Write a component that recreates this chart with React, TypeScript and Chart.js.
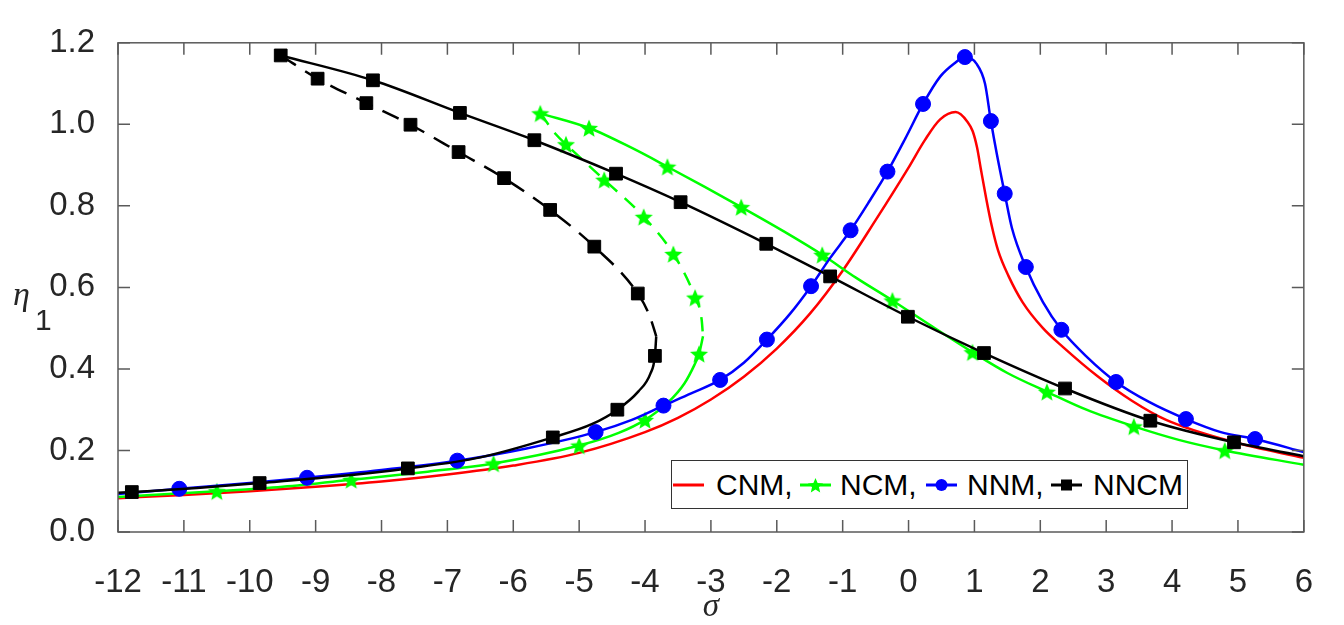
import React, { useEffect, useRef } from "react";
import { Chart, registerables } from "chart.js";

Chart.register(...registerables);

// ---- Axis ticks ----
const xTicks = [-12, -11, -10, -9, -8, -7, -6, -5, -4, -3, -2, -1, 0, 1, 2, 3, 4, 5, 6];
const yTicks = [0, 0.2, 0.4, 0.6, 0.8, 1.0, 1.2];

// ---- CNM (red, no markers) ----
const cnmCurve: [number, number][] = [
  [-12, 0.083], [-11, 0.091], [-10, 0.1], [-9, 0.111], [-8, 0.124], [-7, 0.141], [-6, 0.163],
  [-5, 0.194], [-4, 0.245], [-3.5, 0.28], [-3, 0.325], [-2.5, 0.381], [-2, 0.45], [-1.5, 0.535],
  [-1, 0.641], [-0.5, 0.765], [0, 0.894], [0.25, 0.962], [0.48, 1.012],
  [0.715, 1.03], [0.896, 1.006], [0.974, 0.983], [1.04, 0.943], [1.1, 0.888], [1.18, 0.817],
  [1.26, 0.753], [1.36, 0.69], [1.52, 0.627], [1.73, 0.564], [2.04, 0.5], [2.35, 0.453],
  [2.87, 0.382], [3.39, 0.322], [3.91, 0.275], [4.95, 0.22], [6, 0.182],
];

// ---- NCM (green) ----
const ncmUpper: [number, number][] = [
  [-5.59, 1.027], [-4.85, 0.991], [-4.2, 0.942], [-3.66, 0.896], [-3.1, 0.847], [-2.54, 0.797],
  [-1.9, 0.738], [-1.31, 0.68], [-0.8, 0.624], [-0.245, 0.568], [0.35, 0.505], [0.97, 0.441],
  [1.5, 0.39], [2.1, 0.344], [2.7, 0.3], [3.42, 0.259], [4.1, 0.226], [4.8, 0.2], [6, 0.165],
];
const ncmUpperMarks: [number, number][] = [
  [-5.59, 1.027], [-4.85, 0.991], [-3.66, 0.896], [-2.54, 0.797], [-1.31, 0.68],
  [-0.245, 0.568], [0.97, 0.441], [2.1, 0.344], [3.42, 0.259], [4.8, 0.2],
];
const ncmMiddle: [number, number][] = [
  [-5.59, 1.027], [-5.35, 0.975], [-5.2, 0.951], [-4.62, 0.864], [-4.02, 0.773], [-3.57, 0.682],
  [-3.24, 0.575], [-3.14, 0.52], [-3.12, 0.48],
];
const ncmMiddleMarks: [number, number][] = [
  [-5.2, 0.951], [-4.62, 0.864], [-4.02, 0.773], [-3.57, 0.682], [-3.24, 0.575],
];
const ncmLower: [number, number][] = [
  [-12, 0.086], [-10.5, 0.1], [-9.5, 0.111], [-8.46, 0.128], [-7.3, 0.148], [-6.3, 0.168],
  [-5.0, 0.212], [-4.4, 0.243], [-4.0, 0.275], [-3.65, 0.318], [-3.4, 0.365], [-3.25, 0.41],
  [-3.18, 0.437], [-3.12, 0.48],
];
const ncmLowerMarks: [number, number][] = [
  [-10.5, 0.1], [-8.46, 0.128], [-6.3, 0.168], [-5.0, 0.212], [-4.0, 0.275], [-3.18, 0.437],
];

// ---- NNM (blue) ----
const nnmCurve: [number, number][] = [
  [-12, 0.093], [-11.07, 0.106], [-10, 0.12], [-9.13, 0.133], [-8, 0.152], [-6.85, 0.175],
  [-5.8, 0.205], [-4.75, 0.245], [-4.2, 0.275], [-3.72, 0.31], [-3.3, 0.34], [-2.86, 0.373],
  [-2.5, 0.415], [-2.15, 0.472], [-1.8, 0.535], [-1.48, 0.603], [-1.2, 0.67], [-0.88, 0.74],
  [-0.6, 0.81], [-0.32, 0.884], [-0.05, 0.965], [0.22, 1.05], [0.48, 1.117], [0.7, 1.15],
  [0.855, 1.165], [1.03, 1.149], [1.16, 1.1], [1.25, 1.008], [1.34, 0.927], [1.46, 0.83],
  [1.57, 0.745], [1.78, 0.65], [2.04, 0.564], [2.32, 0.496], [2.71, 0.429], [3.15, 0.368],
  [3.65, 0.319], [4.21, 0.277], [4.74, 0.245], [5.26, 0.228], [6, 0.196],
];
const nnmMarks: [number, number][] = [
  [-11.07, 0.106], [-9.13, 0.133], [-6.85, 0.175], [-4.75, 0.245], [-3.72, 0.31], [-2.86, 0.373],
  [-2.15, 0.472], [-1.48, 0.603], [-0.88, 0.74], [-0.32, 0.884], [0.22, 1.05], [0.855, 1.165],
  [1.25, 1.008], [1.46, 0.83], [1.78, 0.65], [2.32, 0.496], [3.15, 0.368], [4.21, 0.277], [5.26, 0.228],
];

// ---- NNCM (black) ----
const nncmUpper: [number, number][] = [
  [-9.53, 1.169], [-8.13, 1.108], [-6.81, 1.028], [-5.68, 0.961], [-4.44, 0.879], [-3.46, 0.809],
  [-2.16, 0.707], [-1.19, 0.627], [-0.01, 0.528], [1.145, 0.439], [2.375, 0.352], [3.67, 0.273],
  [4.94, 0.22], [6, 0.186],
];
const nncmUpperMarks: [number, number][] = [
  [-9.53, 1.169], [-8.13, 1.108], [-6.81, 1.028], [-5.68, 0.961], [-4.44, 0.879], [-3.46, 0.809],
  [-2.16, 0.707], [-1.19, 0.627], [-0.01, 0.528], [1.145, 0.439], [2.375, 0.352], [3.67, 0.273],
  [4.94, 0.22],
];
const nncmMiddle: [number, number][] = [
  [-9.53, 1.169], [-8.97, 1.112], [-8.23, 1.052], [-7.56, 0.999], [-6.83, 0.932], [-6.14, 0.868],
  [-5.44, 0.79], [-4.77, 0.7], [-4.11, 0.585], [-3.93, 0.53], [-3.83, 0.48],
];
const nncmMiddleMarks: [number, number][] = [
  [-8.97, 1.112], [-8.23, 1.052], [-7.56, 0.999], [-6.83, 0.932], [-6.14, 0.868], [-5.44, 0.79],
  [-4.77, 0.7], [-4.11, 0.585],
];
const nncmLower: [number, number][] = [
  [-12, 0.096], [-11.79, 0.098], [-10.8, 0.108], [-9.85, 0.12], [-8.7, 0.136], [-7.6, 0.156],
  [-6.5, 0.183], [-5.4, 0.232], [-4.8, 0.265], [-4.42, 0.3], [-4.1, 0.345], [-3.92, 0.388],
  [-3.85, 0.432], [-3.83, 0.48],
];
const nncmLowerMarks: [number, number][] = [
  [-11.79, 0.098], [-9.85, 0.12], [-7.6, 0.156], [-5.4, 0.232], [-4.42, 0.3], [-3.85, 0.432],
];

const RED = "#ff0000";
const GREEN = "#00ff00";
const BLUE = "#0000ff";
const BLACK = "#000000";

const toXY = (arr: [number, number][]) => arr.map(([x, y]) => ({ x, y }));

function makeStar(color: string, size: number) {
  const c = document.createElement("canvas");
  c.width = size;
  c.height = size;
  const ctx = c.getContext("2d")!;
  ctx.fillStyle = color;
  const cx = size / 2, cy = size / 2 + 1, R = size / 2 - 0.5, r = R * 0.45;
  ctx.beginPath();
  for (let i = 0; i < 10; i++) {
    const ang = -Math.PI / 2 + (i * Math.PI) / 5;
    const rad = i % 2 === 0 ? R : r;
    ctx.lineTo(cx + rad * Math.cos(ang), cy + rad * Math.sin(ang));
  }
  ctx.closePath();
  ctx.fill();
  return c;
}

const framePlugin = {
  id: "frameTicks",
  afterDraw(chart: any) {
    const { ctx, chartArea: a, scales } = chart;
    ctx.save();
    ctx.strokeStyle = "#5a5a5a";
    ctx.lineWidth = 1.5;
    ctx.strokeRect(a.left, a.top, a.right - a.left, a.bottom - a.top);
    const L = 12;
    ctx.beginPath();
    scales.x.ticks.forEach((t: any) => {
      const px = scales.x.getPixelForValue(t.value);
      ctx.moveTo(px, a.bottom);
      ctx.lineTo(px, a.bottom - L);
      ctx.moveTo(px, a.top);
      ctx.lineTo(px, a.top + L);
    });
    scales.y.ticks.forEach((t: any) => {
      const py = scales.y.getPixelForValue(t.value);
      ctx.moveTo(a.left, py);
      ctx.lineTo(a.left + L, py);
      ctx.moveTo(a.right, py);
      ctx.lineTo(a.right - L, py);
    });
    ctx.stroke();
    // axis titles
    ctx.fillStyle = "#262626";
    ctx.textAlign = "center";
    ctx.textBaseline = "alphabetic";
    ctx.font = 'italic 33px "Liberation Serif"';
    ctx.fillText("σ", (a.left + a.right) / 2, 608);
    ctx.textAlign = "left";
    ctx.font = 'italic 34px "Liberation Serif"';
    ctx.fillText("η", 5, 297);
    ctx.font = '30px "Liberation Sans"';
    ctx.fillText("1", 27, 322);
    ctx.restore();
  },
};

function LegendIcon({ color, marker }: { color: string; marker: string }) {
  return (
    <svg width="31" height="20" style={{ display: "block" }}>
      <line x1="0" y1="10" x2="31" y2="10" stroke={color} strokeWidth="3" />
      {marker === "star" && (
        <polygon
          fill={color}
          points={Array.from({ length: 10 }, (_, i) => {
            const ang = -Math.PI / 2 + (i * Math.PI) / 5;
            const rad = i % 2 === 0 ? 8 : 3.6;
            return `${15.5 + rad * Math.cos(ang)},${11 + rad * Math.sin(ang)}`;
          }).join(" ")}
        />
      )}
      {marker === "circle" && <circle cx="15.5" cy="10" r="6" fill={color} />}
      {marker === "square" && <rect x="10" y="4.5" width="11" height="11" fill={color} />}
    </svg>
  );
}

export default function App() {
  const ref = useRef<HTMLCanvasElement | null>(null);

  useEffect(() => {
    if (!ref.current) return;
    const star = makeStar(GREEN, 20);
    const line = (data: [number, number][], color: string, dash: number[] = []) => ({
      data: toXY(data),
      showLine: true,
      borderColor: color,
      backgroundColor: color,
      borderWidth: 2.5,
      borderDash: dash,
      pointRadius: 0,
      pointHoverRadius: 0,
      cubicInterpolationMode: "monotone" as const,
      fill: false,
    });
    const marks = (data: [number, number][], color: string, style: any, radius: number) => ({
      data: toXY(data),
      showLine: false,
      borderColor: color,
      backgroundColor: color,
      pointStyle: style,
      pointRadius: radius,
      pointHoverRadius: radius,
      pointBorderWidth: 1,
    });

    const chart = new Chart(ref.current, {
      type: "scatter",
      data: {
        datasets: [
          marks(nncmUpperMarks, BLACK, "rect", 9),
          marks(nncmMiddleMarks, BLACK, "rect", 9),
          marks(nncmLowerMarks, BLACK, "rect", 9),
          line(nncmUpper, BLACK),
          line(nncmMiddle, BLACK, [18, 11]),
          line(nncmLower, BLACK),
          marks(nnmMarks, BLUE, "circle", 7.5),
          line(nnmCurve, BLUE),
          marks(ncmUpperMarks, GREEN, star, 10),
          marks(ncmMiddleMarks, GREEN, star, 10),
          marks(ncmLowerMarks, GREEN, star, 10),
          line(ncmUpper, GREEN),
          line(ncmMiddle, GREEN, [14, 10]),
          line(ncmLower, GREEN),
          line(cnmCurve, RED),
        ] as any,
      },
      options: {
        animation: false,
        responsive: false,
        layout: { padding: { top: 19, right: 14, left: 0, bottom: 0 }, autoPadding: false } as any,
        plugins: { legend: { display: false }, tooltip: { enabled: false } },
        events: [],
        scales: {
          x: {
            type: "linear",
            min: -12,
            max: 6,
            afterBuildTicks: (s: any) => {
              s.ticks = xTicks.map((v) => ({ value: v }));
            },
            afterFit: (s: any) => {
              s.height = 85;
            },
            grid: { display: false },
            border: { display: false },
            ticks: {
              autoSkip: false,
              maxRotation: 0,
              padding: 23,
              color: "#262626",
              font: { family: '"Liberation Sans", Arial, sans-serif', size: 33 },
              callback: (v: any) => String(v),
            },
          },
          y: {
            type: "linear",
            min: 0,
            max: 1.2,
            afterBuildTicks: (s: any) => {
              s.ticks = yTicks.map((v) => ({ value: v }));
            },
            afterFit: (s: any) => {
              s.width = 110;
            },
            grid: { display: false },
            border: { display: false },
            ticks: {
              padding: 15,
              color: "#262626",
              font: { family: '"Liberation Sans", Arial, sans-serif', size: 33 },
              callback: (v: any) => Number(v).toFixed(1),
            },
          },
        },
      },
      plugins: [framePlugin],
    });
    return () => chart.destroy();
  }, []);

  const textStyle: React.CSSProperties = {
    position: "absolute",
    top: 0,
    height: "100%",
    display: "flex",
    alignItems: "center",
    fontFamily: '"Liberation Sans", Arial, sans-serif',
    fontSize: 30,
    color: "#000",
    lineHeight: 1,
  };
  const iconStyle = (left: number): React.CSSProperties => ({
    position: "absolute",
    left,
    top: 0,
    height: "100%",
    display: "flex",
    alignItems: "center",
  });

  return (
    <div style={{ position: "relative", width: 1328, height: 609 }}>
      <canvas ref={ref} width={1328} height={609} style={{ display: "block" }} />
      <div
        style={{
          position: "absolute",
          left: 663,
          top: 452,
          width: 517,
          height: 49,
          boxSizing: "border-box",
          border: "1.5px solid #333",
          background: "#fff",
        }}
      >
        <div style={iconStyle(1)}><LegendIcon color={RED} marker="none" /></div>
        <span style={{ ...textStyle, left: 44 }}>CNM,</span>
        <div style={iconStyle(128)}><LegendIcon color={GREEN} marker="star" /></div>
        <span style={{ ...textStyle, left: 168 }}>NCM,</span>
        <div style={iconStyle(254)}><LegendIcon color={BLUE} marker="circle" /></div>
        <span style={{ ...textStyle, left: 295 }}>NNM,</span>
        <div style={iconStyle(379)}><LegendIcon color={BLACK} marker="square" /></div>
        <span style={{ ...textStyle, left: 421 }}>NNCM</span>
      </div>
    </div>
  );
}
